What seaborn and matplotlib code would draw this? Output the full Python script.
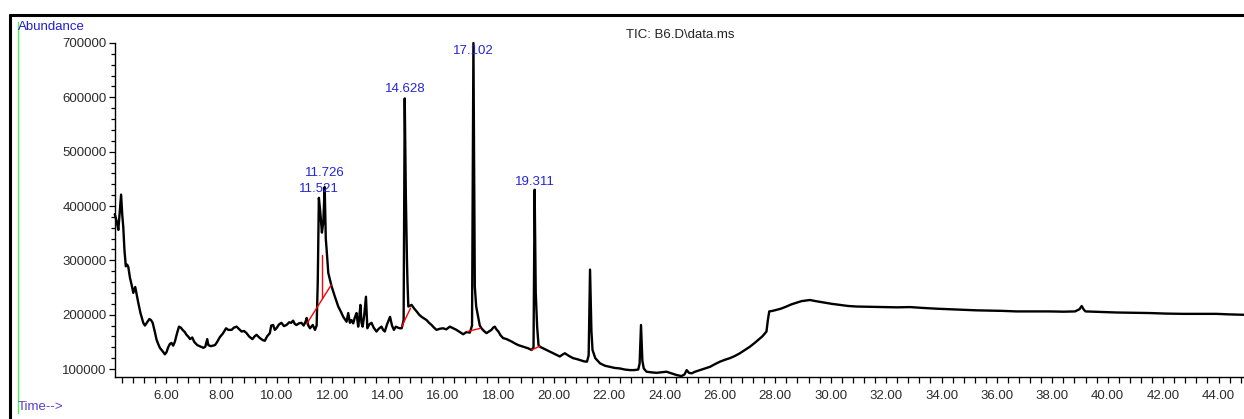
import numpy as np
import pandas as pd
import matplotlib
matplotlib.use("Agg")
import matplotlib.pyplot as plt
import seaborn as sns
from matplotlib.ticker import MultipleLocator, FixedLocator, FormatStrFormatter
from matplotlib.lines import Line2D

# TIC trace: retention time (min), abundance (thousands)
time_min = [
    4.15, 4.22, 4.28, 4.34, 4.38, 4.42, 4.46, 4.50, 4.55, 4.60, 4.64, 4.70, 4.76, 4.82, 4.89, 4.95,
    5.00, 5.08, 5.18, 5.24, 5.32, 5.40, 5.46, 5.52, 5.60, 5.66, 5.72, 5.78, 5.86, 5.92, 5.96, 6.02,
    6.08, 6.14, 6.20, 6.26, 6.32, 6.40, 6.47, 6.54, 6.60, 6.68, 6.74, 6.80, 6.87, 6.95, 7.02, 7.13,
    7.22, 7.35, 7.42, 7.49, 7.53, 7.62, 7.70, 7.77, 7.85, 7.95, 8.05, 8.17, 8.25, 8.37, 8.45, 8.55,
    8.63, 8.73, 8.82, 8.91, 9.00, 9.12, 9.20, 9.27, 9.39, 9.50, 9.57, 9.65, 9.75, 9.80, 9.87, 9.93,
    9.99, 10.08, 10.17, 10.26, 10.35, 10.45, 10.52, 10.59, 10.65, 10.71, 10.80, 10.89, 10.97, 11.04,
    11.08, 11.14, 11.20, 11.30, 11.38, 11.44, 11.48, 11.52, 11.57, 11.63, 11.68, 11.73, 11.77, 11.80,
    11.86, 11.98, 12.10, 12.22, 12.32, 12.40, 12.52, 12.58, 12.64, 12.70, 12.76, 12.82, 12.88, 12.94,
    12.98, 13.02, 13.06, 13.10, 13.16, 13.22, 13.27, 13.34, 13.42, 13.50, 13.60, 13.68, 13.78, 13.84,
    13.90, 13.98, 14.09, 14.16, 14.23, 14.30, 14.38, 14.44, 14.51, 14.58, 14.62, 14.66, 14.70, 14.72,
    14.75, 14.87, 14.95, 15.05, 15.14, 15.23, 15.32, 15.41, 15.50, 15.59, 15.68, 15.77, 15.88, 16.00,
    16.12, 16.25, 16.37, 16.49, 16.61, 16.73, 16.85, 16.97, 17.05, 17.10, 17.15, 17.20, 17.27, 17.33,
    17.39, 17.48, 17.57, 17.66, 17.75, 17.81, 17.87, 17.93, 18.00, 18.08, 18.17, 18.30, 18.42, 18.50,
    18.60, 18.72, 18.84, 18.96, 19.08, 19.20, 19.27, 19.31, 19.35, 19.40, 19.45, 19.50, 19.62, 19.74,
    19.86, 19.98, 20.10, 20.22, 20.30, 20.40, 20.55, 20.70, 20.85, 21.00, 21.10, 21.20, 21.26, 21.31,
    21.36, 21.40, 21.50, 21.67, 21.85, 22.03, 22.20, 22.39, 22.57, 22.75, 22.90, 23.05, 23.10, 23.15,
    23.20, 23.25, 23.35, 23.50, 23.71, 23.90, 24.07, 24.25, 24.43, 24.61, 24.72, 24.80, 24.88, 24.98,
    25.10, 25.28, 25.46, 25.64, 25.82, 26.00, 26.18, 26.36, 26.54, 26.72, 26.90, 27.08, 27.23, 27.38,
    27.53, 27.68, 27.73, 27.78, 27.90, 28.05, 28.20, 28.40, 28.58, 28.76, 28.95, 29.10, 29.25, 29.45,
    29.73, 30.03, 30.33, 30.63, 30.93, 31.40, 31.90, 32.40, 32.86, 33.30, 33.82, 34.30, 34.78, 35.25,
    35.75, 36.20, 36.71, 37.30, 37.91, 38.40, 38.82, 38.98, 39.06, 39.14, 39.20, 39.75, 40.32, 40.90,
    41.52, 42.10, 42.73, 43.30, 43.93, 44.40, 44.92,
]
abundance_k = [
    385, 372, 356, 395, 421, 385, 360, 320, 289, 292, 288, 268, 255, 240, 251, 235,
    222, 203, 185, 180, 186, 192, 190, 185, 168, 154, 146, 139, 134, 130, 127, 131,
    140, 146, 148, 143, 150, 166, 178, 176, 172, 168, 163, 160, 155, 158, 150, 144,
    142, 139, 141, 155, 144, 142, 143, 144, 150, 159, 165, 175, 172, 172, 176, 178,
    174, 169, 170, 166, 160, 155, 160, 163, 157, 153, 152, 160, 166, 180, 181, 172,
    175, 182, 185, 179, 181, 186, 185, 189, 183, 181, 184, 185, 180, 187,
    194, 180, 175, 181, 172, 180, 260, 415, 390, 351, 370, 435, 340, 320,
    277, 252, 233, 215, 205, 196, 187, 203, 185, 190, 184, 195, 203, 178,
    195, 218, 185, 178, 200, 233, 175, 182, 185, 176, 169, 174, 178, 172,
    169, 182, 196, 180, 172, 178, 176, 175, 175, 190, 598, 420, 301, 259,
    215, 218, 212, 206, 200, 196, 193, 190, 185, 181, 176, 172, 174, 175,
    173, 178, 175, 172, 168, 164, 168, 167, 180, 700, 252, 215, 196, 180,
    175, 170, 166, 169, 172, 176, 178, 173, 169, 162, 157, 155, 152, 150,
    147, 144, 142, 140, 138, 135, 140, 430, 240, 178, 144, 141, 138, 135,
    132, 129, 126, 123, 126, 129, 124, 120, 118, 115.5, 114, 113.5, 125, 283,
    170, 135, 120, 110.5, 106, 104, 102, 101, 99, 98, 98, 99, 110, 181,
    115, 101, 95, 94, 93, 94, 95, 92, 89, 87, 90, 98, 93, 92,
    95, 98, 101, 104, 109, 113.5, 117, 120, 124, 129, 135, 141, 147, 153.5,
    160, 169, 190, 206, 207, 209, 211, 215, 219, 222, 225, 226, 227, 225,
    222.5, 220, 218, 216, 215, 214.5, 214, 213.5, 214, 212.5, 211, 210, 209, 208,
    207.5, 207, 206, 206, 206, 205.5, 206, 210, 216, 209, 206, 205, 204, 203.5,
    203, 202, 201.5, 201.5, 201.5, 200.5, 199.8,
]

# labelled peaks and where their labels sit
peak_times = [11.521, 11.726, 14.628, 17.102, 19.311]
peak_labels = ["11.521", "11.726", "14.628", "17.102", "19.311"]
label_heights = [432000, 460000, 615000, 685000, 445000]

# red integration baselines (time pairs, abundance pairs in thousands)
baseline_t = [[11.08, 11.97], [11.64, 11.64], [14.51, 14.83], [16.88, 17.36], [19.20, 19.50]]
baseline_a = [[183, 255], [230, 310], [178, 212], [169, 175], [135, 142]]

sns.set_style("white")
plt.rcParams["font.family"] = ["Liberation Sans", "DejaVu Sans"]

W, H = 1244, 419
fig = plt.figure(figsize=(W / 100, H / 100), dpi=100)
ax = fig.add_axes([115 / W, 1 - 377 / H, 1 - 115 / W, (377 - 43) / H])

df = pd.DataFrame({"time": time_min, "abundance": np.array(abundance_k) * 1000})
sns.lineplot(data=df, x="time", y="abundance", ax=ax, color="black", lw=1.7,
             estimator=None, sort=False)
for bt, ba in zip(baseline_t, baseline_a):
    ax.plot(bt, np.array(ba) * 1000, color="red", lw=1.0)

for t, lab, h in zip(peak_times, peak_labels, label_heights):
    ax.text(t, h, lab, ha="center", va="center", color="#2424d8", fontsize=9.5, clip_on=False)

ax.set_xlim(4.16, 44.92)
ax.set_ylim(85300, 700000)
ax.xaxis.set_major_locator(FixedLocator(np.arange(6, 45, 2)))
ax.xaxis.set_minor_locator(MultipleLocator(0.4))
ax.xaxis.set_major_formatter(FormatStrFormatter("%.2f"))
ax.yaxis.set_major_locator(MultipleLocator(100000))
ax.yaxis.set_minor_locator(MultipleLocator(20000))
ax.yaxis.set_major_formatter(FormatStrFormatter("%d"))
ax.tick_params(which="both", direction="out", length=4, width=0.9, color="black",
               labelsize=9.5, labelcolor="#2b2b2b", pad=2, bottom=True, left=True)
ax.tick_params(axis="y", which="minor", length=3)
ax.tick_params(axis="x", which="both", pad=5)
ax.set_xlabel("")
ax.set_ylabel("")
for s in ["top", "right"]:
    ax.spines[s].set_visible(False)
for s in ["left", "bottom"]:
    ax.spines[s].set_color("black")
    ax.spines[s].set_linewidth(1.0)
for line in ax.get_lines():
    line.set_clip_on(False)

fig.text(18 / W, 1 - 27 / H, "Abundance", color="#1f1fd0", fontsize=9.5, va="center", ha="left")
fig.text(18 / W, 1 - 407 / H, "Time-->", color="#5b3fc4", fontsize=9.5, va="center", ha="left")
fig.text(680 / W, 1 - 35 / H, "TIC: B6.D\\data.ms", color="#222222", fontsize=9.5,
         va="center", ha="center")

# outer frame and the green marker line on the left
fig.add_artist(Line2D([10 / W, 10 / W], [0, 1 - 15 / H], color="black", lw=2.2,
                      transform=fig.transFigure))
fig.add_artist(Line2D([10 / W, 1], [1 - 15 / H, 1 - 15 / H], color="black", lw=2.2,
                      transform=fig.transFigure))
fig.add_artist(Line2D([18 / W, 18 / W], [1 - 413 / H, 1 - 22 / H], color="#55ee55", lw=1.0,
                      transform=fig.transFigure))

fig.savefig("out.png", dpi=100)
